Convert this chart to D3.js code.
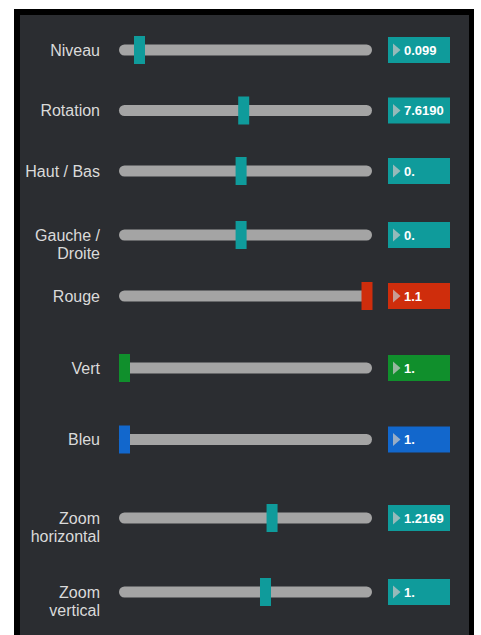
<!DOCTYPE html>
<html>
<head>
<meta charset="utf-8">
<script src="https://cdn.jsdelivr.net/npm/d3@7"></script>
<style>
  body { margin: 0; background: #fff; }
  svg { display: block; }
</style>
</head>
<body>
<div id="chart"></div>
<script>
// slider data
const labels = [["Niveau"], ["Rotation"], ["Haut / Bas"], ["Gauche /", "Droite"], ["Rouge"], ["Vert"], ["Bleu"], ["Zoom", "horizontal"], ["Zoom", "vertical"]];
const values = [0.099, 7.619, 0, 0, 1.1, 1, 1, 1.2169, 1];
const valueText = ["0.099", "7.6190", "0.", "0.", "1.1", "1.", "1.", "1.2169", "1."];
const minValues = [0, 0, -1, -1, 1, 1, 1, 0, 0];
const maxValues = [1.6, 15.5, 1.08, 1.08, 1.1, 1.1, 1.1, 2, 1.72];
const kinds = ["teal", "teal", "teal", "teal", "red", "green", "blue", "teal", "teal"];

// layout
const width = 481;
const height = 635;
const rowY = [50, 110.5, 171, 235, 296, 368, 439.5, 518, 592];
const trackX0 = 119;
const trackX1 = 372;
const thumbW = 11;
const boxX = 388;
const boxW = 62;
const boxH = 26;

const colors = { teal: "#0f9b9b", red: "#cf2d0c", green: "#108f2c", blue: "#1267cc" };

const svg = d3.select("#chart").append("svg").attr("width", width).attr("height", height);

// frame + panel
svg.append("rect").attr("x", 14).attr("y", 9).attr("width", 460).attr("height", height).attr("fill", "#000");
svg.append("rect").attr("x", 20).attr("y", 15).attr("width", 449).attr("height", height).attr("fill", "#2b2d31");

const rows = svg
  .selectAll("g.row")
  .data(labels.map((l, i) => ({ label: l, value: values[i], text: valueText[i], i: i })))
  .enter()
  .append("g")
  .attr("class", "row")
  .attr("transform", (d) => `translate(0,${rowY[d.i]})`);

// labels
rows
  .append("text")
  .attr("text-anchor", "end")
  .attr("font-family", "Liberation Sans, Arial, sans-serif")
  .attr("font-size", 16)
  .attr("fill", "#dadada")
  .selectAll("tspan")
  .data((d) => d.label)
  .enter()
  .append("tspan")
  .attr("x", 100)
  .attr("y", (d, j) => 5.5 + j * 18)
  .text((d) => d);

// track
rows
  .append("rect")
  .attr("x", trackX0)
  .attr("y", -5.5)
  .attr("width", trackX1 - trackX0)
  .attr("height", 11)
  .attr("rx", 5.5)
  .attr("fill", "#a4a4a4");

// thumb, centre runs from track start to just past track end
rows
  .append("rect")
  .attr("x", (d) => {
    const x = d3.scaleLinear().domain([minValues[d.i], maxValues[d.i]]).range([trackX0 + thumbW / 2, trackX1 - 5]);
    return x(d.value) - thumbW / 2;
  })
  .attr("y", -14)
  .attr("width", thumbW)
  .attr("height", 28)
  .attr("fill", (d) => colors[kinds[d.i]]);

// value box
rows
  .append("rect")
  .attr("x", boxX)
  .attr("y", -boxH / 2)
  .attr("width", boxW)
  .attr("height", boxH)
  .attr("fill", (d) => colors[kinds[d.i]]);

rows
  .append("path")
  .attr("d", `M${boxX + 5},-6.5L${boxX + 12.5},0L${boxX + 5},6.5Z`)
  .attr("fill", "#c4c4c4")
  .attr("fill-opacity", 0.75);

rows
  .append("text")
  .attr("x", boxX + 16)
  .attr("y", 4.5)
  .attr("font-family", "Liberation Sans, Arial, sans-serif")
  .attr("font-size", 13)
  .attr("font-weight", "bold")
  .attr("fill", "#fff")
  .text((d) => d.text);
</script>
</body>
</html>
